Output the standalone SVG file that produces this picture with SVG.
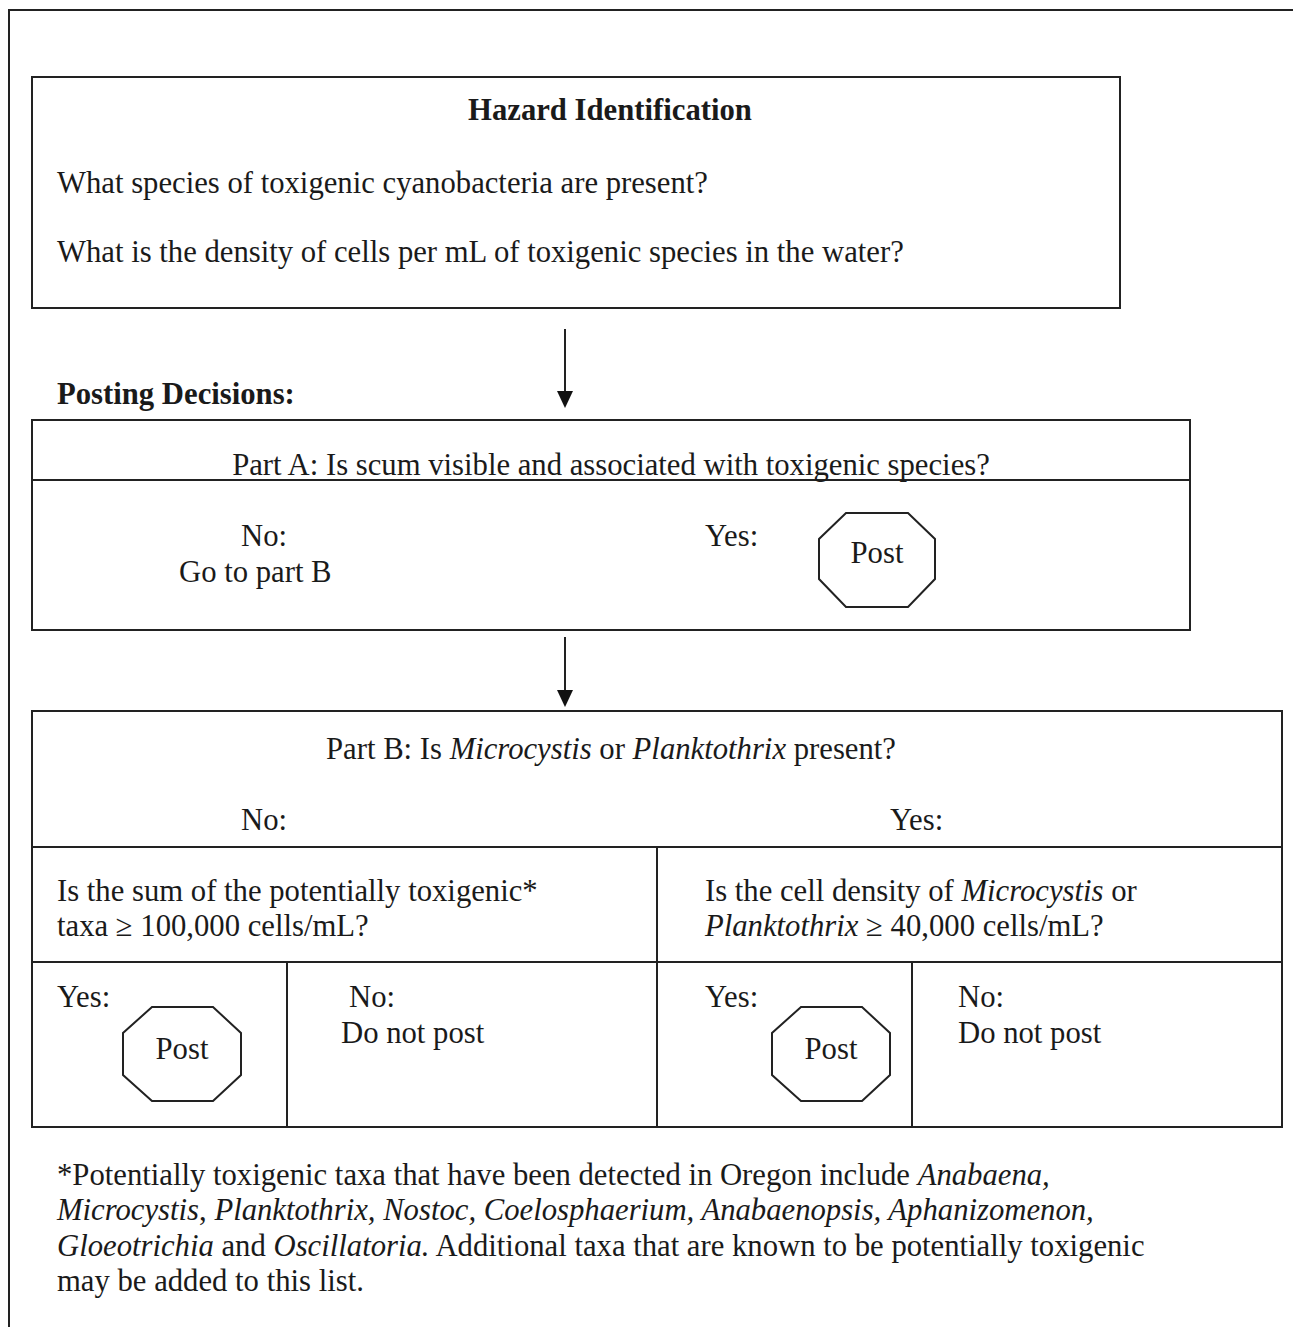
<svg xmlns="http://www.w3.org/2000/svg" width="1293" height="1327" viewBox="0 0 1293 1327">
<style>
text{font-family:"Liberation Serif","Times New Roman",serif;font-size:30.7px;fill:#1a1a1a}
.b{font-weight:bold}
.i{font-style:italic}
.c{text-anchor:middle}
.box{fill:none;stroke:#222;stroke-width:2}
.ln{stroke:#222;stroke-width:2;fill:none}
.oct{fill:#fff;stroke:#222;stroke-width:2}
.head{fill:#111}
</style>
<rect x="9" y="10" width="1300" height="1330" class="box"/>

<g id="hazard">
<rect x="32" y="77" width="1088" height="231" class="box"/>
<text x="610" y="120" class="b c">Hazard Identification</text>
<text x="57" y="193">What species of toxigenic cyanobacteria are present?</text>
<text x="57" y="262">What is the density of cells per mL of toxigenic species in the water?</text>
</g>

<g id="posting-label">
<text x="57" y="404" class="b">Posting Decisions:</text>
</g>

<g id="connectors">
<line x1="565" y1="329" x2="565" y2="394" class="ln"/>
<path d="M557,391 L573,391 L565,408 Z" class="head"/>
<line x1="565" y1="637" x2="565" y2="693" class="ln"/>
<path d="M557,690 L573,690 L565,707 Z" class="head"/>
</g>

<g id="partA">
<rect x="32" y="420" width="1158" height="210" class="box"/>
<line x1="32" y1="480" x2="1190" y2="480" class="ln"/>
<text x="611" y="475" class="c">Part A: Is scum visible and associated with toxigenic species?</text>
<text x="241" y="546">No:</text>
<text x="179" y="582">Go to part B</text>
<text x="705" y="546">Yes:</text>
</g>

<g id="postA">
<polygon points="846,513 908,513 935,539 935,579 908,607 846,607 819,579 819,539" class="oct"/>
<text x="877" y="563" class="c">Post</text>
</g>

<g id="partB">
<rect x="32" y="711" width="1250" height="416" class="box"/>
<line x1="32" y1="847" x2="1282" y2="847" class="ln"/>
<line x1="32" y1="962" x2="1282" y2="962" class="ln"/>
<line x1="657" y1="847" x2="657" y2="1127" class="ln"/>
<line x1="287" y1="962" x2="287" y2="1127" class="ln"/>
<line x1="912" y1="962" x2="912" y2="1127" class="ln"/>
<text x="611" y="759" class="c">Part B: Is <tspan class="i">Microcystis</tspan> or <tspan class="i">Planktothrix</tspan> present?</text>
<text x="241" y="830">No:</text>
<text x="890" y="830">Yes:</text>
</g>

<g id="sumQ">
<text x="57" y="901">Is the sum of the potentially toxigenic*</text>
<text x="57" y="936">taxa ≥ 100,000 cells/mL?</text>
</g>

<g id="densityQ">
<text x="705" y="901">Is the cell density of <tspan class="i">Microcystis</tspan> or</text>
<text x="705" y="936"><tspan class="i">Planktothrix</tspan> ≥ 40,000 cells/mL?</text>
</g>

<g id="sumYes">
<text x="57" y="1007">Yes:</text>
<polygon points="152,1007 213,1007 241,1033 241,1075 213,1101 152,1101 123,1075 123,1033" class="oct"/>
<text x="182" y="1059" class="c">Post</text>
</g>

<g id="sumNo">
<text x="349" y="1007">No:</text>
<text x="341" y="1043">Do not post</text>
</g>

<g id="densYes">
<text x="705" y="1007">Yes:</text>
<polygon points="801,1007 862,1007 890,1033 890,1075 862,1101 801,1101 772,1075 772,1033" class="oct"/>
<text x="831" y="1059" class="c">Post</text>
</g>

<g id="densNo">
<text x="958" y="1007">No:</text>
<text x="958" y="1043">Do not post</text>
</g>

<g id="footnote">
<text x="57" y="1185">*Potentially toxigenic taxa that have been detected in Oregon include <tspan class="i">Anabaena,</tspan></text>
<text x="57" y="1220"><tspan class="i">Microcystis</tspan>, <tspan class="i">Planktothrix, Nostoc, Coelosphaerium, Anabaenopsis, Aphanizomenon,</tspan></text>
<text x="57" y="1256"><tspan class="i">Gloeotrichia</tspan> and <tspan class="i">Oscillatoria.</tspan> Additional taxa that are known to be potentially toxigenic</text>
<text x="57" y="1291">may be added to this list.</text>
</g>
</svg>
